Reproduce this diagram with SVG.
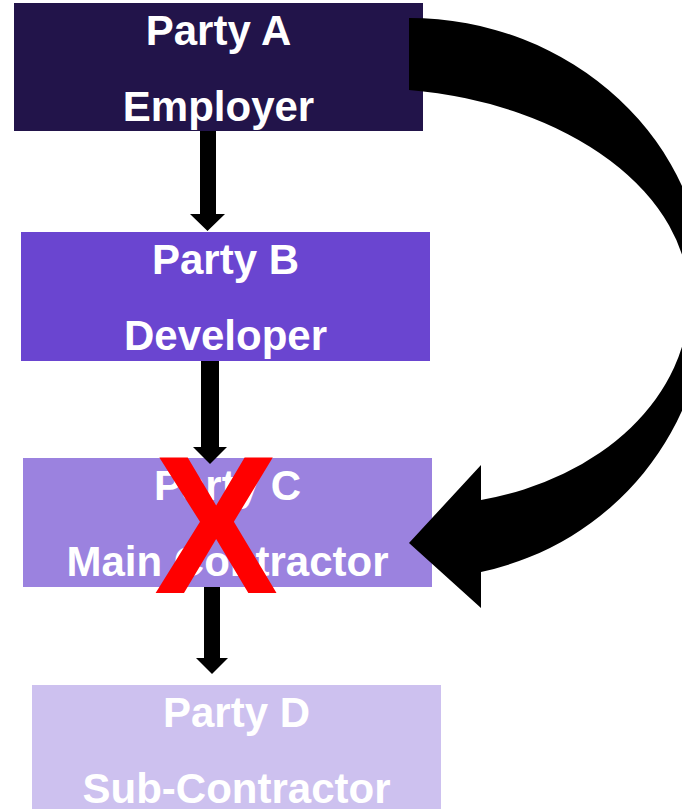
<svg xmlns="http://www.w3.org/2000/svg" width="682" height="809" viewBox="0 0 682 809">
  <style>
    .lbl { font-family: "Liberation Sans", Arial, sans-serif; font-weight: bold; font-size: 42px; fill: #ffffff; text-anchor: middle; }
    .arrow { fill: #000000; }
    .cross { font-family: "Liberation Sans", Arial, sans-serif; font-weight: bold; font-size: 196px; fill: #ff0000; text-anchor: middle; }
  </style>
  <rect width="682" height="809" fill="#ffffff"/>
  <g id="partyA">
    <rect x="14" y="3" width="409" height="128" fill="#22144a"/>
    <text class="lbl" x="218.5" y="45">Party A</text>
    <text class="lbl" x="218.5" y="121">Employer</text>
  </g>
  <g id="partyB">
    <rect x="21" y="232" width="409" height="129" fill="#6a45d0"/>
    <text class="lbl" x="225.5" y="274">Party B</text>
    <text class="lbl" x="225.5" y="350">Developer</text>
  </g>
  <g id="partyC">
    <rect x="23" y="458" width="409" height="129" fill="#9b82df"/>
    <text class="lbl" x="227.5" y="500">Party C</text>
    <text class="lbl" x="227.5" y="576">Main Contractor</text>
  </g>
  <g id="partyD">
    <rect x="32" y="685" width="409" height="124" fill="#cdc1ef"/>
    <text class="lbl" x="236.5" y="727">Party D</text>
    <text class="lbl" x="236.5" y="803">Sub-Contractor</text>
  </g>
  <g id="connectors">
    <polygon class="arrow" points="200,131 216,131 216,214 225,214 207.5,231 190,214 200,214"/>
    <polygon class="arrow" points="201,361 219,361 219,447 227,447 210,464 193,447 201,447"/>
    <polygon class="arrow" points="204,587 220,587 220,658 228,658 212,674 196,658 204,658"/>
    <path class="arrow" d="M409,18 A297,277 0 0 1 706,295 A286,280 0 0 1 481,572 L481,608 L409,543 L481,465 L481,500 A269,205 0 0 0 689,300 A322,210 0 0 0 409,90 Z"/>
  </g>
  <g id="cross">
    <text class="cross" transform="translate(216,593) scale(0.95,1)" x="0" y="0">X</text>
  </g>
</svg>
